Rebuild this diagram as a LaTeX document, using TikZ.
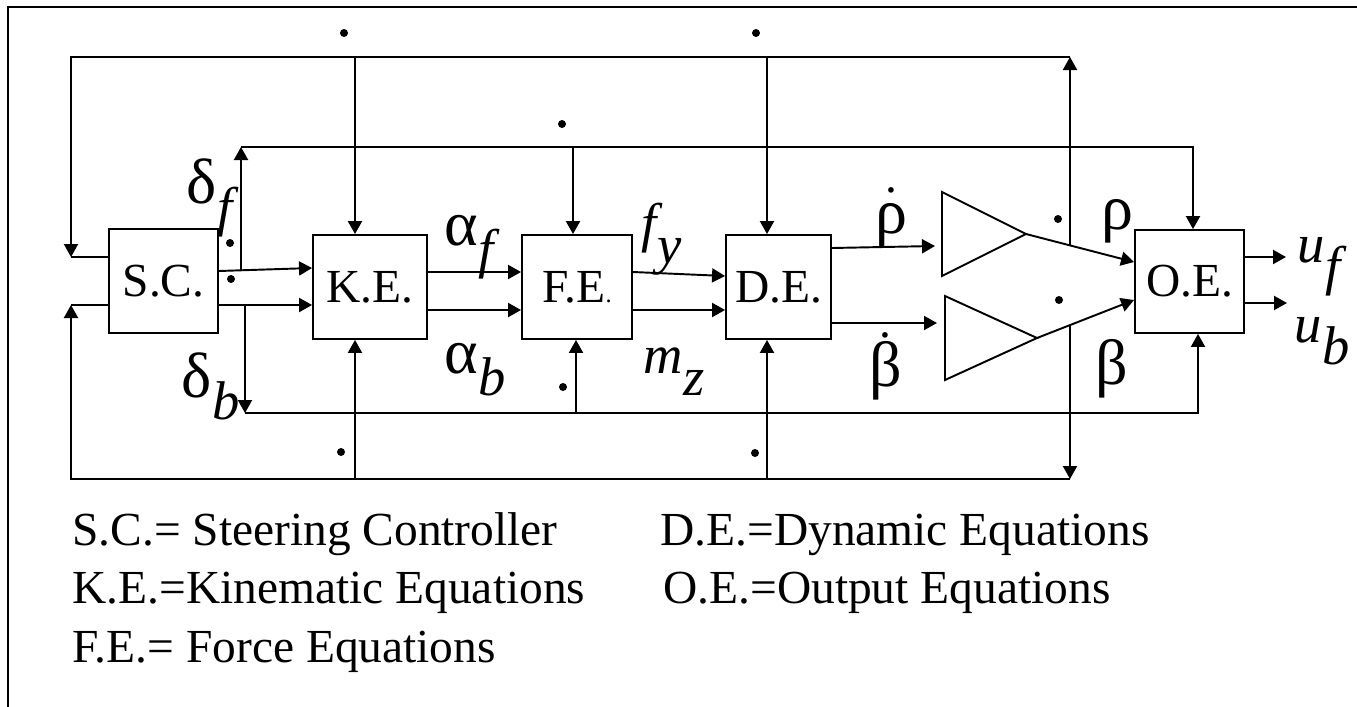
\documentclass[tikz,border=0pt]{standalone}
\usepackage{fontspec}
\setmainfont{Liberation Serif}
\newfontfamily\grec[Scale=1.35]{Liberation Serif}
\newfontfamily\lettre[Scale=1.15]{Liberation Serif}
\usetikzlibrary{arrows.meta,calc}
\tikzset{epais/.style={line width=1.1pt}}
\newcommand{\ita}[1]{{\lettre\itshape #1}}
\newcommand{\gr}[1]{{\grec #1}}
\newcommand{\indice}[2]{#1\kern0.02em\raisebox{-0.47em}{\ita{#2}}}
\newcommand{\pointe}[2]{\ooalign{\gr{#1}\cr\hidewidth\raisebox{#2}{.}\hidewidth\cr}}
\newcommand{\ampli}[3]{\draw[epais] (#1,#2-42) -- (#3,#2) -- (#1,#2+42) -- cycle}

\begin{document}
\begin{tikzpicture}[x=0.02cm,y=-0.02cm,font=\fontsize{27}{32}\selectfont,
	boite/.style={draw,epais,inner sep=0pt,minimum height=2.08cm},
	fleche/.style={epais,-{Triangle[length=7.4pt,width=8pt]}},
	lab/.style={inner sep=0pt,anchor=base west}]
	\useasboundingbox (0,0) rectangle (1357,707);
	\draw[epais] (1400,7) -- (8,7) -- (8,760);
	% blocs
	\node[boite,minimum width=2.18cm] (sc) at (163.5,281) {S.C.};
	\node[boite,minimum width=2.28cm] (ke) at (370,287) {K.E.};
	\node[boite,minimum width=2.2cm] (fe) at (577,287) {F.E{\fontsize{14}{14}\selectfont.}};
	\node[boite,minimum width=2.1cm] (de) at (778.5,287) {D.E.};
	\node[boite,minimum width=2.18cm,minimum height=2.06cm] (oe) at (1189.5,281.5) {O.E.};
	\ampli{942}{234}{1026};
	\ampli{945}{338}{1037};
	% points de passage
	\coordinate (hg) at (71,57);
	\coordinate (hd) at (1070,57);
	\coordinate (bg) at (71,479);
	\coordinate (bd) at (1070,479);
	\coordinate (e1) at (71,257);
	\coordinate (e2) at (71,305);
	\coordinate (df) at (241,270);
	\coordinate (dfh) at (241,147);
	\coordinate (dfd) at (1193,147);
	\coordinate (db) at (245,305);
	\coordinate (dbb) at (245,413);
	\coordinate (dbd) at (1198,413);
	\coordinate (k1) at (355,57);
	\coordinate (k2) at (355,479);
	\coordinate (f1) at (573,147);
	\coordinate (f2) at (576,413);
	\coordinate (d1) at (767,57);
	\coordinate (d2) at (767,479);
	\coordinate (t1) at (935,246);
	\coordinate (t2) at (937,323);
	\coordinate (a1) at (1026,234);
	\coordinate (a2) at (1037,338);
	\coordinate (r1) at (1070,245);
	\coordinate (r2) at (1070,325);
	\coordinate (uf) at (1286,257);
	\coordinate (ub) at (1287,303);
	% boucles
	\draw[fleche] (hd) -- (hg) -- (e1);
	\draw[epais] (e1) -- (e1 -| sc.west);
	\draw[fleche] (bd) -- (bg) -- (e2);
	\draw[epais] (e2) -- (e2 -| sc.west);
	\draw[fleche] (r1) -- (hd);
	\draw[fleche] (r2) -- (bd);
	\draw[fleche] (k1) -- (k1 |- ke.north);
	\draw[fleche] (k2) -- (k2 |- ke.south);
	\draw[fleche] (d1) -- (d1 |- de.north);
	\draw[fleche] (d2) -- (d2 |- de.south);
	\draw[fleche] (df) -- (dfh);
	\draw[fleche] (dfh) -- (dfd) -- (dfd |- oe.north);
	\draw[fleche] (db) -- (dbb);
	\draw[fleche] (dbb) -- (dbd) -- (dbd |- oe.south);
	\draw[fleche] (f1) -- (f1 |- fe.north);
	\draw[fleche] (f2) -- (f2 |- fe.south);
	% chaine directe
	\draw[fleche] ($(sc.east)+(0,-10)$) -- ($(ke.west)+(0,-19)$);
	\draw[fleche] ($(sc.east)+(0,24)$) -- ($(ke.west)+(0,18)$);
	\draw[fleche] ($(ke.east)+(0,-15)$) -- ($(fe.west)+(0,-15)$);
	\draw[fleche] ($(ke.east)+(0,23)$) -- ($(fe.west)+(0,23)$);
	\draw[fleche] ($(fe.east)+(0,-15)$) -- ($(de.west)+(0,-11)$);
	\draw[fleche] ($(fe.east)+(0,23)$) -- ($(de.west)+(0,23)$);
	\draw[fleche] ($(de.east)+(0,-39)$) -- (t1);
	\draw[fleche] ($(de.east)+(0,36)$) -- (t2);
	\draw[fleche] (a1) -- ($(oe.west)+(0,-19.5)$);
	\draw[fleche] (a2) -- ($(oe.west)+(0,18.5)$);
	\draw[fleche] ($(oe.east)+(0,-24.5)$) -- (uf);
	\draw[fleche] ($(oe.east)+(0,21.5)$) -- (ub);
	\foreach \x/\y in {344/33,756/33,562/124,230/243,231/279,563/387,341/452,755/453,1058/219,1059/300}
		\fill (\x,\y) circle (4);
	% etiquettes
	\node[lab] (ldf) at (186,203) {\indice{\gr{δ}}{f}};
	\node[lab] (ldb) at (181,397) {\indice{\gr{δ}}{b}};
	\node[lab] (laf) at (444,245) {\indice{\gr{α}}{f}};
	\node[lab] (lalb) at (444,373) {\indice{\gr{α}}{b}};
	\node[lab] (lfy) at (641,241) {\indice{\ita{f}}{y}};
	\node[lab] (lmz) at (643,373) {\indice{\ita{m}}{z}};
	\node[lab] (lrd) at (875,233) {\pointe{ρ}{0.85em}};
	\node[lab] (lbd) at (869,386) {\pointe{β}{1.02em}};
	\node[lab] (lr) at (1101,229) {\gr{ρ}};
	\node[lab] (lb) at (1095,384) {\gr{β}};
	\node[lab] (luf) at (1297,262) {\indice{\ita{u}}{f}};
	\node[lab] (lub) at (1294,342) {\indice{\ita{u}}{b}};
	% legende
	\node[lab] (l1) at (72,545) {S.C.= Steering Controller};
	\node[lab] (l2) at (72,603) {K.E.=Kinematic Equations};
	\node[lab] (l3) at (72,662) {F.E.= Force Equations};
	\node[lab] (l4) at (660,545) {D.E.=Dynamic Equations};
	\node[lab] (l5) at (663,603) {O.E.=Output Equations};
\end{tikzpicture}
\end{document}
